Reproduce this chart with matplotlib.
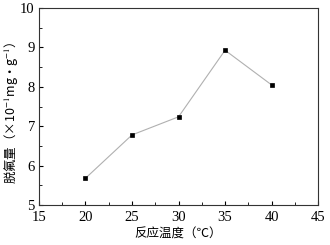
import matplotlib
matplotlib.use("Agg")
import matplotlib.pyplot as plt
from matplotlib.ticker import MultipleLocator

TEMPERATURE = [20, 25, 30, 35, 40]
DEFLUORIDATION = [5.68, 6.78, 7.24, 8.93, 8.05]

X_LABEL = "反应温度（℃）"
Y_LABEL = "脱氟量（×10$^{-1}$mg•g$^{-1}$）"

plt.rcParams["font.family"] = ["Liberation Serif", "Noto Sans CJK SC", "DejaVu Sans"]
plt.rcParams["mathtext.fontset"] = "stix"

fig = plt.figure(figsize=(3.3, 2.45), dpi=100)
ax = fig.add_axes([0.118, 0.163, 0.846, 0.804])

ax.plot(TEMPERATURE, DEFLUORIDATION, color="#b0b0b0", linewidth=0.8,
        marker="s", markersize=3.5, markerfacecolor="black",
        markeredgecolor="black", markeredgewidth=0.5)

ax.set_xlim(15, 45)
ax.set_ylim(5, 10)
ax.xaxis.set_major_locator(MultipleLocator(5))
ax.xaxis.set_minor_locator(MultipleLocator(2.5))
ax.yaxis.set_major_locator(MultipleLocator(1))
ax.yaxis.set_minor_locator(MultipleLocator(0.5))
ax.tick_params(which="both", direction="in", top=False, right=False,
               labelsize=10.5)
ax.tick_params(axis="x", pad=4)
ax.tick_params(axis="y", pad=3)
ax.tick_params(which="major", length=3, width=0.8)
ax.tick_params(which="minor", length=2, width=0.6)
for s in ax.spines.values():
    s.set_linewidth(0.8)
    s.set_color("#333333")

ax.set_xlabel(X_LABEL, fontsize=9, labelpad=3, family=["Noto Sans CJK SC"])
ax.set_ylabel(Y_LABEL, fontsize=9, family=["Noto Sans CJK SC"])
ax.yaxis.set_label_coords(-0.064, 0.47)

fig.savefig("out.png", dpi=100)
